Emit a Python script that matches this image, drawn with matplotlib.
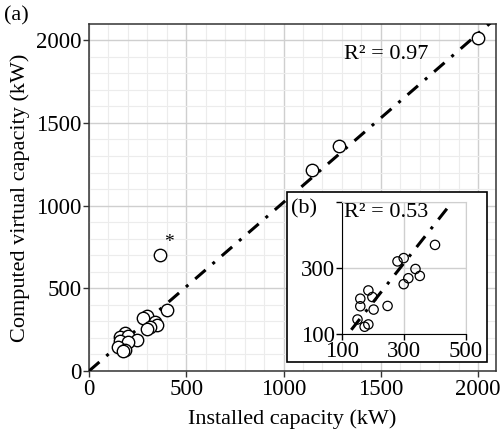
import matplotlib
matplotlib.use("Agg")
import matplotlib.pyplot as plt
import numpy as np
from matplotlib.patches import Rectangle

plt.rcParams['font.family'] = ['Liberation Serif', 'DejaVu Serif']

# Data (installed kW, computed virtual kW)
small_installed = [400, 299, 279, 337, 351, 314, 299, 185, 159, 198, 247, 159, 202, 150, 185, 173]
small_computed  = [370, 330, 320, 297, 276, 269, 251, 232, 207, 212, 185, 184, 174, 144, 129, 122]
large_installed = [2000, 1285, 1148, 365]
large_computed  = [2012, 1358, 1217, 703]

fit_a_slope = 1.02
fit_b_slope, fit_b_intercept = 1.19, -42
fit_b_range = [130, 450]

main_ticks = [0, 500, 1000, 1500, 2000]
inset_ticks = [100, 300, 500]

W, H = 504, 433
fig = plt.figure(figsize=(W/100, H/100), dpi=100)

ax = fig.add_axes([89/W, 1-371/H, (496-89)/W, (371-24)/H])
ax.set_xlim(0, 2092)
ax.set_ylim(0, 2098)
ax.set_xticks(main_ticks)
ax.set_yticks(main_ticks)
ax.set_xticks(np.arange(0, 2100, 100), minor=True)
ax.set_yticks(np.arange(0, 2100, 100), minor=True)
ax.grid(which='major', color='#cfcfcf', lw=1.0)
ax.grid(which='minor', color='#ececec', lw=0.8)
ax.set_axisbelow(True)
ax.tick_params(which='major', direction='out', length=4, width=1, labelsize=16.5, color='#333333', pad=1.5)
ax.tick_params(which='minor', length=0)
for s in ax.spines.values():
    s.set_color('#333333'); s.set_linewidth(1.1)

all_x = small_installed + large_installed
all_y = small_computed + large_computed
xs = np.array([0, 2100])
ax.plot(xs, fit_a_slope*xs, color='black', lw=2.2, dashes=(4.5, 3, 1, 3), zorder=3)
ax.scatter(all_x, all_y, s=80, facecolors='white', edgecolors='black', linewidths=1.0, zorder=4)
ax.text(385, 775, '*', fontsize=14, ha='left', va='center')
ax.text(1530, 1915, 'R² = 0.97', fontsize=16, ha='center', va='center')
ax.set_xlabel('Installed capacity (kW)', fontsize=16, labelpad=7)
ax.set_ylabel('Computed virtual capacity (kW)', fontsize=16, labelpad=4)
fig.text(4/W, 1-16/H, '(a)', fontsize=16, ha='left', va='center')

# inset box
box = Rectangle((287/W, 1-362/H), (487-287)/W, (362-192)/H, transform=fig.transFigure,
                facecolor='white', edgecolor='black', lw=1.2, zorder=5)
fig.patches.append(box)

axi = fig.add_axes([342/W, 1-334/H, (466-342)/W, (334-202)/H], zorder=6)
axi.set_xlim(100, 500)
axi.set_ylim(100, 500)
axi.set_xticks(inset_ticks)
axi.set_yticks(inset_ticks)
axi.set_yticklabels(['100', '300', ''])
axi.grid(color='#cfcfcf', lw=1.0)
axi.set_axisbelow(True)
axi.tick_params(direction='out', length=4, width=1, labelsize=16.5, pad=1)
for k in ['top', 'right']:
    axi.spines[k].set_color('#cfcfcf')
for k in ['left', 'bottom']:
    axi.spines[k].set_color('black')
xb = np.array(fit_b_range)
axi.plot(xb, fit_b_slope*xb + fit_b_intercept, color='black', lw=2.2, dashes=(4.5, 3, 1, 3), zorder=3)
axi.scatter(small_installed, small_computed, s=45, facecolors='none', edgecolors='black', linewidths=0.9, zorder=4)
axi.text(108, 468, 'R² = 0.53', fontsize=16, ha='left', va='center')
fig.text(291/W, 1-209/H, '(b)', fontsize=16, ha='left', va='center', zorder=7)

fig.savefig('out.png', dpi=100)
